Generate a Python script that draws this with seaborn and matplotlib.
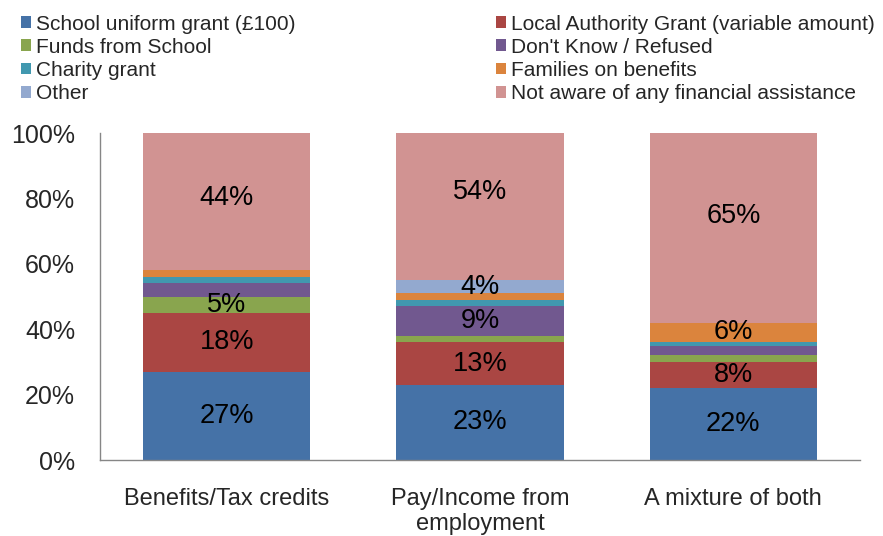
import numpy as np
import seaborn as sns
import matplotlib.pyplot as plt
from matplotlib.patches import Patch
from matplotlib.ticker import FixedLocator

categories = ["Benefits/Tax credits", "Pay/Income from\nemployment", "A mixture of both"]
series = [
    "School uniform grant (£100)",
    "Local Authority Grant (variable amount)",
    "Funds from School",
    "Don't Know / Refused",
    "Charity grant",
    "Families on benefits",
    "Other",
    "Not aware of any financial assistance",
]
uniform_grant = [27, 23, 22]
la_grant = [18, 13, 8]
school_funds = [5, 2, 2]
dont_know = [4, 9, 3]
charity = [2, 2, 1]
families_benefits = [2, 2, 6]
other = [0, 4, 0]
not_aware = [44, 54, 65]
# only these segments carry a value label
show_label = [
    [True, True, True],
    [True, True, True],
    [True, False, False],
    [False, True, False],
    [False, False, False],
    [False, False, True],
    [False, True, False],
    [True, True, True],
]
colors = ["#4572A7", "#AA4643", "#89A54E", "#71588F", "#4198AF", "#DB843D", "#93A9CF", "#D19392"]

values = [uniform_grant, la_grant, school_funds, dont_know, charity,
          families_benefits, other, not_aware]

sns.set_style("white")
plt.rcParams["font.family"] = ["Liberation Sans", "DejaVu Sans"]

fig = plt.figure(figsize=(8.83, 5.36), dpi=100)
ax = fig.add_axes([100 / 883, 76 / 536, 760 / 883, 327 / 536])

bottom = np.zeros(len(categories))
for name, vals, col, lab in zip(series, values, colors, show_label):
    vals = np.array(vals, dtype=float) / 100
    sns.barplot(x=categories, y=vals, bottom=bottom, color=col, width=0.66,
                saturation=1, ax=ax, linewidth=0)
    for i, v in enumerate(vals):
        if lab[i]:
            ax.text(i, bottom[i] + v / 2, f"{v * 100:.0f}%", ha="center", va="center",
                    fontsize=19.5, color="black")
    bottom = bottom + vals

ax.set_xlim(-0.5, 2.5)
ax.set_ylim(0, 1)
ax.set_yticks(np.arange(0, 1.01, 0.2))
ax.set_yticklabels([f"{t * 100:.0f}%" for t in np.arange(0, 1.01, 0.2)], fontsize=18)

ax.xaxis.set_major_locator(FixedLocator([-0.5, 0.5, 1.5, 2.5]))
ax.xaxis.set_major_formatter(plt.NullFormatter())
ax.xaxis.set_minor_locator(FixedLocator([0, 1, 2]))
ax.set_xticklabels(categories, minor=True, fontsize=17)
ax.tick_params(axis="x", which="minor", length=0, pad=20)
ax.tick_params(axis="x", which="major", length=6, width=1, color="#868686", direction="out")
ax.tick_params(axis="y", length=6, width=1, color="#868686", direction="out", pad=12)
ax.set_xlabel("")
ax.set_ylabel("")

for s in ["top", "right"]:
    ax.spines[s].set_visible(False)
for s in ["left", "bottom"]:
    ax.spines[s].set_color("#868686")
    ax.spines[s].set_linewidth(1)

handles = [Patch(facecolor=c, edgecolor="none", label=n) for n, c in zip(series, colors)]
leg_kw = dict(loc="upper left", frameon=False, fontsize=15, borderpad=0, borderaxespad=0,
              handlelength=0.5, handleheight=0.5, handletextpad=0.2, labelspacing=0.2)
fig.legend(handles=handles[0::2], bbox_to_anchor=(21 / 883, 1 - 14.5 / 536), **leg_kw)
fig.legend(handles=handles[1::2], bbox_to_anchor=(496 / 883, 1 - 14.5 / 536), **leg_kw)

fig.savefig("out.png", dpi=100)
